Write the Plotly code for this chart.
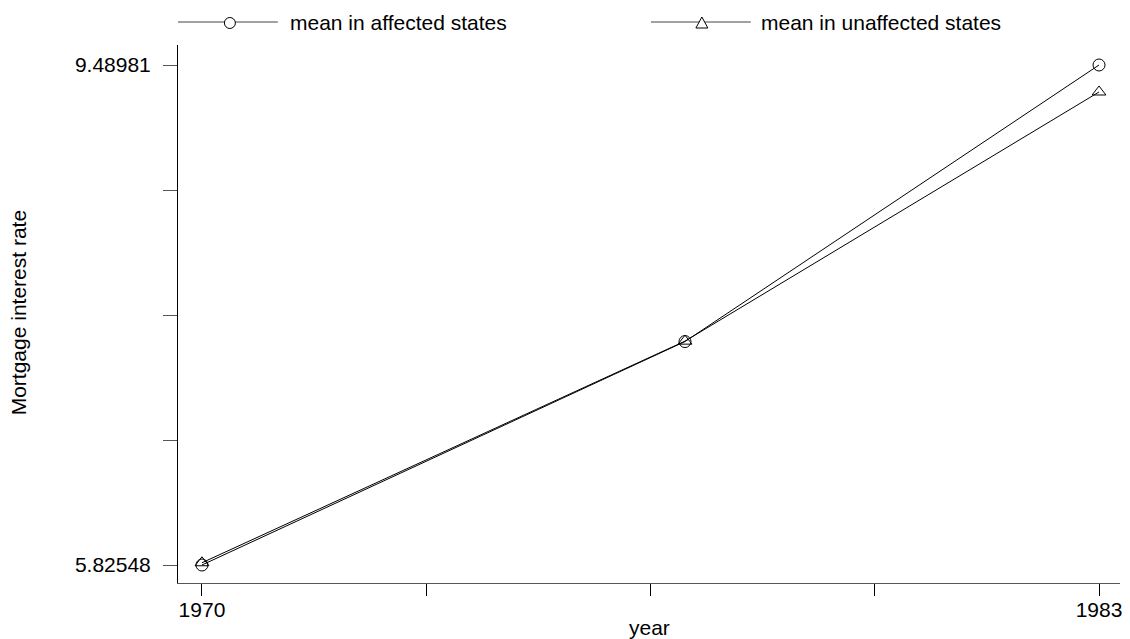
import plotly.graph_objects as go

years = [1970, 1977, 1983]
affected = [5.82548, 7.463, 9.48981]
unaffected = [5.842, 7.466, 9.292]
x_ticks = [1970, 1973.25, 1976.5, 1979.75, 1983]
x_ticktext = ["1970", "", "", "", "1983"]
y_min, y_max = 5.82548, 9.48981
y_ticks = [y_min + i * (y_max - y_min) / 4 for i in range(5)]
y_ticktext = ["5.82548", "", "", "", "9.48981"]

FONT = "Liberation Sans, Arial, sans-serif"
FS = 21
OFF = 8  # page body margin
W, H = 1130 - OFF, 639 - OFF
# plot area in absolute window pixels
AL, AR, AT, AB = 178, 1122, 45, 583
L, T = AL - OFF, AT - OFF
R = W - (AR - OFF)
B = H - (AB - OFF)
pw, ph = AR - AL, AB - AT

def px(x):
    return (x - AL) / pw

def py(y):
    return (AB - y) / ph

fig = go.Figure()
fig.add_trace(go.Scatter(x=years, y=affected, mode="lines+markers", name="mean in affected states",
                         line=dict(color="black", width=1),
                         marker=dict(symbol="circle-open", size=12, color="black", line=dict(width=1))))
fig.add_trace(go.Scatter(x=years, y=unaffected, mode="lines+markers", name="mean in unaffected states",
                         line=dict(color="black", width=1),
                         marker=dict(symbol="triangle-up-open", size=12, color="black", line=dict(width=1))))

# manual legend
leg_y = py(22)
for x0, x1, label, tx in [(178, 278, "mean in affected states", 288),
                          (652, 752, "mean in unaffected states", 760)]:
    fig.add_shape(type="line", xref="paper", yref="paper", x0=px(x0), x1=px(x1), y0=leg_y, y1=leg_y,
                  line=dict(color="#444444", width=1))
    fig.add_annotation(xref="paper", yref="paper", x=px(tx), y=leg_y, text=label, showarrow=False,
                       xanchor="left", yanchor="middle", font=dict(size=FS, color="black", family=FONT))
fig.add_shape(type="circle", xref="paper", yref="paper", x0=px(230 - 5.5), x1=px(230 + 5.5),
              y0=py(23 + 5.5), y1=py(23 - 5.5), line=dict(color="black", width=1), fillcolor="white")
fig.add_shape(type="path", xref="paper", yref="paper",
              path=f"M {px(697)} {py(28)} L {px(709)} {py(28)} L {px(703)} {py(17)} Z",
              line=dict(color="black", width=1), fillcolor="white")

fig.add_annotation(xref="paper", yref="paper", x=px(18), y=py(313), text="Mortgage interest rate", textangle=-90,
                   showarrow=False, xanchor="center", yanchor="middle", font=dict(size=FS, color="black", family=FONT))
fig.add_annotation(xref="paper", yref="paper", x=px(651), y=py(627), text="year",
                   showarrow=False, xanchor="center", yanchor="middle", font=dict(size=FS, color="black", family=FONT))

fig.update_layout(
    width=W, height=H, margin=dict(l=L, r=R, t=T, b=B),
    plot_bgcolor="white", paper_bgcolor="white", showlegend=False,
    font=dict(family=FONT, size=FS, color="black"),
    xaxis=dict(range=[1969.653, 1983.304], tickmode="array", tickvals=x_ticks, ticktext=x_ticktext,
               ticks="outside", ticklen=12, tickcolor="black", showgrid=False, zeroline=False,
               showline=True, linecolor="#555555", linewidth=1, tickfont=dict(size=FS),
               ticklabelstandoff=-4),
    yaxis=dict(range=[5.6936, 9.6364], tickmode="array", tickvals=y_ticks, ticktext=y_ticktext,
               ticks="outside", ticklen=14, tickcolor="#555555", showgrid=False, zeroline=False,
               showline=True, linecolor="black", linewidth=1, tickfont=dict(size=FS),
               ticklabelstandoff=8),
)
fig.write_html("out.html")
